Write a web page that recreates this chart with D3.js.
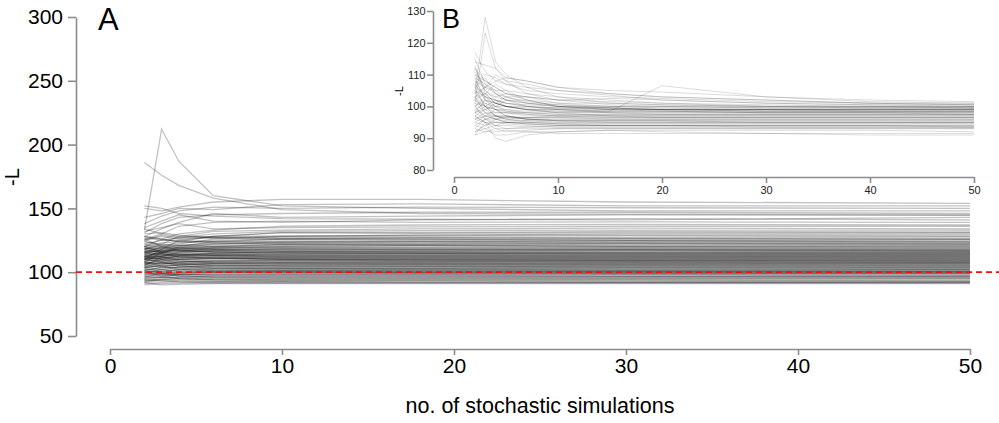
<!DOCTYPE html>
<html><head><meta charset="utf-8">
<script src="https://cdn.jsdelivr.net/npm/d3@7"></script>
<style>
body{margin:0;background:#fff}
svg{display:block}
</style></head>
<body><svg id="chart" width="999" height="423"></svg>
<script>
// ---------- data ----------
const mainX = [2,3,4,6,10,18,30,50];
const mainSeries = [
[133,212,187,160,152,150,148,148],
[186,176,168,158,149,146,145.5,145],
[150,148,151,155,157,157,155,154],
[143,146,150,149,153,153.5,152,152],
[138,144,148,151,150,151,150.5,150],
[152,150,146,144,142,141.5,141,143],
[131,138,143,145,146,147,147,146],
[128,134,139,146,143,144,145,144.5],
[135,140,145,140,139,141,142,141],
[126,130,136,139,140,139,139.5,139],
[120,126,130,133,136,137,137.5,137],
[132,135,138,134,135,135.5,136,136],
[118,122,128,132,133,134,134.5,134],
[125,129,127,130,132,132.5,133,133],
[110,118,125,128,131,131,132,131.5],
[128,126,124,128,131,130.5,131,131],
[115,120,122,126,128,129,130,130],
[122,125,127,128,128.5,129,129,129],
[130,131,129,127,128,128,128.5,128],
[112,116,120,124,126,127,127,127.5],
[125,128,126,127,127,127,126.5,126],
[118,121,123,125,126,125.5,126,126],
[134,130,128,127,126,126,125,125.5],
[108,115,119,122,124,125,125,124.5],
[120,123,124,124,124.5,124,124,124],
[127,125,125,124,123.5,124,124.5,123.5],
[114,118,121,123,123,123.5,123,123],
[122,120,121,122,123,122.5,123,122.5],
[110,115,118,120,122,122,122.5,122],
[128,126,124,123,122,121.5,122,121.5],
[116,119,120,121,121.5,121,121,121],
[119,117,119,120,121,121,120.5,120.5],
[105,112,116,119,120,120.5,120,120],
[124,122,121,120,120,119.5,120,119.5],
[118,119,119,119,119.5,119,119,119],
[112,116,118,119,119,118.5,119,118.5],
[121,119,118,118,118.5,118,118,118],
[115,117,117,118,118,117.5,118,117.5],
[109,113,115,117,118,117.5,117.5,117],
[124,121,119,118,117,117,117,117],
[117,116,117,117,116.5,116.5,117,116.5],
[113,115,116,117,116.5,116,116,116],
[120,118,117,116,116,116,115.5,116],
[106,110,113,115,116,115.5,115.5,115.5],
[116,117,116,116,115.5,115,115,115],
[119,116,115,115,115,115,114.5,115],
[111,113,114,115,114.5,114.5,114.5,114.5],
[126,120,117,116,115,114.5,114,114],
[114,114,114,114,114,114,113.5,114],
[110,112,113,114,113.5,113.5,113.5,113.5],
[117,115,114,114,113.5,113,113,113],
[108,111,112,113,113,113,112.5,113],
[115,114,113,113,112.5,112.5,112.5,112.5],
[112,113,113,113,112.5,112,112,112],
[120,116,114,113,112,112,111.5,112],
[104,108,110,111,111.5,111.5,111.5,111.5],
[113,112,112,112,111.5,111,111,111],
[110,111,111,112,111,111,110.5,111],
[116,114,112,111,110.5,110.5,110.5,110.5],
[107,109,110,111,110.5,110,110,110],
[112,111,111,111,110,110,109.5,110],
[118,115,112,111,110,109.5,109.5,109.5],
[103,106,108,109,109.5,109.5,109,109],
[111,110,110,110,109.5,109,109,109],
[114,112,110,109,109,108.5,108.5,108.5],
[106,107,108,108.5,108.5,108.5,108,108],
[109,109,108,108,108,108,108,108],
[101,104,106,107,107.5,107.5,107.5,107.5],
[112,110,109,108,107.5,107,107,107],
[107,107,107,107,107,107,106.5,107],
[116,112,109,107,106.5,106.5,106.5,106.5],
[104,105,106,106.5,106.5,106,106,106],
[108,107,106.5,106,106,106,105.5,105.5],
[99,102,104,105,105.5,105.5,105.5,105.5],
[110,108,106,105.5,105,105,105,105],
[105,105,105,105,105,104.5,104.5,104.5],
[113,110,107,105,104.5,104.5,104,104],
[102,103,104,104,104,104,104,104],
[107,106,105,104,103.5,103.5,103.5,103.5],
[98,100,102,103,103,103,103,103],
[104,104,103.5,103,103,102.5,102.5,102.5],
[111,108,105,103,102.5,102.5,102,102],
[100,101,102,102,102,102,101.5,102],
[96,99,100,101,101.5,101.5,101.5,101.5],
[106,104,103,102,101.5,101,101,101],
[102,102,101.5,101,101,101,100.5,100.5],
[95,97,99,100,100.5,100.5,100.5,100.5],
[108,105,102,101,100.5,100,100,100],
[101,100.5,100,100,100,100,100,100],
[98,99,99.5,100,100,99.5,99.5,99.5],
[104,102,100.5,100,99.5,99.5,99,99],
[94,96,98,99,99,99,99,99],
[100,99,98.5,98.5,98.5,98.5,98.5,98.5],
[97,98,98,98,98,98,98,97.5],
[103,100,98,97.5,97.5,97.5,97,97],
[93,95,96,97,97,97,97,97],
[99,98,97,96.5,96.5,96.5,96.5,96.5],
[96,96,96,96,96,96,96,96],
[101,99,97,96,95.5,95.5,95.5,95.5],
[92,94,95,95,95,95,95,95],
[97,96,95,94.5,94.5,94.5,94.5,94.5],
[93,94,94,94,94,94,94,93.5],
[100,97,95,94,93.5,93.5,93.5,93],
[91,92,93,93,93,93,92.5,92.5],
[95,94,93,92.5,92.5,92,92,92],
[90,91,91.5,92,92,92,92,92],
[94,93,92,91.5,91.5,91.5,91.5,91.5],
[92,90,90.5,91,91,91,91,91]
];

const insetX = [2,3,4,5,7,10,15,20,30,40,50];
const insetSeries = [
[104,128,114,110,106,103,101,100.5,100,100,100],
[101,123,112,108,104,102,100.5,100,99.5,99.5,99.5],
[117,111,108,107,105,104,103,102.5,101.5,101,101],
[98,102,101,100,99,98,98.5,106.5,103,102,101.5],
[91,95,90,89,91,92,92.5,92,91.5,91,91],
[114,113,112,109,108,106,105,104.5,103,101.5,101],
[108,106,110,108,107,105,103.5,102,101,100.5,100.5],
[112,108,106,104,103,102,101.5,101,100.5,100,100],
[106,109,104,103,103,101,100,100,100,99.5,99.5],
[110,105,103,102,101,100,99.5,99.5,99,99,99],
[103,104,107,105,102,100,99,99,99,99,99],
[100,102,101,103,101,100.5,99.5,99,98.5,98.5,98.5],
[115,107,104,102,100,99,98.5,98.5,98.5,98.5,98.5],
[107,103,101,100,99,98.5,98,98,98,98,98],
[98,100,102,101,100,99,98,97.5,97.5,97.5,97.5],
[105,100,98,98,97.5,97,97,97,97,97,97],
[95,97,99,98,97,97,96.5,96.5,96.5,96.5,96.5],
[102,99,97,96,96.5,96.5,96,96,96,96,96],
[93,96,97,97,96,95.5,95.5,95.5,95.5,95.5,95.5],
[109,102,99,97,96,95.5,95,95,95,95,95],
[97,95,94,95,95,94.5,94.5,94.5,94.5,94.5,94.5],
[100,97,96,95,94.5,94,94,94,94,94,94],
[92,93,94,94,93.5,93.5,93.5,93.5,93.5,93.5,93.5],
[96,95,93,92,92.5,93,93,93,93,93,93],
[94,93,91,91,92,92,92.5,92.5,92.5,92.5,92],
[91,92,92,92.5,92,91.5,91.5,91.5,91.5,91.5,91.5],
[103,106,108,109,108,106,104,103,102,101,100.5],
[107,110,109,107,106,105,104,103,102,101,100.5],
[102,104,103,104,103,102,102.5,102,101,100.5,100],
[111,106,105,105,104,103,102,101,100,100,100],
[99,101,100,102,102,101,101,100.5,100,100,99.5],
[105,103,102,101,100.5,100,100,100,99.5,99.5,99.5],
[97,99,101,100,99.5,99.5,99.5,99,99,99,99],
[113,104,101,100,99,99,99,99,99,98.5,98.5],
[101,100,99,99,98.5,98.5,98.5,98.5,98.5,98.5,98.5],
[104,101,99,98.5,98,98,98,98,98,98,98],
[96,98,98,98,98,97.5,97.5,97.5,97.5,97.5,97.5],
[108,103,100,98.5,97.5,97,97,97,97,97,97],
[99,97,96,96.5,96.5,96.5,96.5,96.5,96.5,96.5,96.5],
[101,98,97,96.5,96,96,96,96,96,96,96],
[94,96,96,95.5,95.5,95.5,95.5,95.5,95.5,95.5,95.5],
[106,100,97,96,95.5,95,95,95,95,95,95],
[97,95,95,95,94.5,94.5,94.5,94.5,94.5,94.5,94.5],
[103,98,96,95,94.5,94,94,94,94,94,94],
[92,94,95,94.5,94,93.5,93.5,93.5,93.5,93.5,93.5],
[100,96,94,93,93,93,93,93,93,93,93],
[98,99,100,100,99,99,98.5,98.5,98,98,97.5],
[110,108,106,104,102,100,99,98.5,98,98,98],
[104,106,104,102,101,100,99.5,99,98.5,98.5,98.5],
[96,97,97,97,96.5,97,97,97,97,97,97],
[107,102,100,99,98,97.5,97.5,97.5,97.5,97.5,97.5],
[102,100,99,97,96,96,96,96,96,96,96],
[95,94,96,97,96,95.5,95.5,95.5,95,95,95],
[112,105,102,101,100,99.5,99.5,99,99,99,99],
[100,103,102,100,99,98,97,96.5,96.5,96.5,96.5],
[106,104,101,100,100,99.5,99,99,99,99,99],
[93,92,93,93,93.5,94,94,94,94,94,93.5],
[103,100,97,96,95,94.5,94,94,93.5,93.5,93.5],
[98,96,95,95,95,95,95,95,95,95,95],
[109,107,105,103,101.5,100.5,100,99.5,99.5,99.5,99.5]
];

const mainYTicks = [50,100,150,200,250,300];
const mainXTicks = [0,10,20,30,40,50];
const insetYTicks = [80,90,100,110,120,130];
const insetXTicks = [0,10,20,30,40,50];
const referenceValue = 100;
const xLabel = "no. of stochastic simulations";
const yLabel = "-L";

// ---------- drawing ----------
const svg = d3.select("#chart");
const FONT = "'Liberation Sans', Arial, Helvetica, sans-serif";
const axisCol = "#8c8c8c";

function styleAxis(g, size, col) {
  g.attr("font-family", FONT).attr("font-size", size);
  g.selectAll(".domain").attr("stroke", axisCol).attr("stroke-width", 1.6);
  g.selectAll(".tick line").attr("stroke", axisCol).attr("stroke-width", 1.6);
  g.selectAll(".tick text").attr("fill", col);
}

// main panel
const x = d3.scaleLinear().domain([0,50]).range([110,970]);
const y = d3.scaleLinear().domain([50,300]).range([336,17]);

const lineMain = d3.line().x((d,i)=>x(mainX[i])).y(d=>y(d));
svg.append("g").selectAll("path").data(mainSeries).join("path")
  .attr("d", lineMain).attr("fill","none")
  .attr("stroke","#000").attr("stroke-opacity",0.24).attr("stroke-width",1.3);

const gy = svg.append("g").attr("transform","translate(76,0)")
  .call(d3.axisLeft(y).tickValues(mainYTicks).tickSize(8).tickSizeOuter(0).tickPadding(5));
styleAxis(gy, 21, "#000");
const gx = svg.append("g").attr("transform","translate(0,349)")
  .call(d3.axisBottom(x).tickValues(mainXTicks).tickSize(6).tickSizeOuter(0).tickPadding(3));
styleAxis(gx, 21, "#000");

svg.append("line").attr("x1",76).attr("x2",999)
  .attr("y1",y(referenceValue)).attr("y2",y(referenceValue))
  .attr("stroke","#ee1111").attr("stroke-width",1.7).attr("stroke-dasharray","6,4");

svg.append("text").attr("x",540).attr("y",413).attr("text-anchor","middle")
  .attr("font-family",FONT).attr("font-size",21.5).text(xLabel);
svg.append("text").attr("transform","translate(19,177) rotate(-90)").attr("text-anchor","middle")
  .attr("font-family",FONT).attr("font-size",20).text(yLabel);
svg.append("text").attr("x",98).attr("y",30).attr("font-family",FONT).attr("font-size",31).text("A");

// inset panel
const xi = d3.scaleLinear().domain([0,50]).range([454,974]);
const yi = d3.scaleLinear().domain([80,130]).range([170,11]);
const lineInset = d3.line().x((d,i)=>xi(insetX[i])).y(d=>yi(d));
svg.append("g").selectAll("path").data(insetSeries).join("path")
  .attr("d", lineInset).attr("fill","none")
  .attr("stroke","#000").attr("stroke-opacity",0.14).attr("stroke-width",1);

const giy = svg.append("g").attr("transform","translate(433,0)")
  .call(d3.axisLeft(yi).tickValues(insetYTicks).tickSize(6).tickSizeOuter(0).tickPadding(1.5));
styleAxis(giy, 11, "#222");
const gix = svg.append("g").attr("transform","translate(0,177)")
  .call(d3.axisBottom(xi).tickValues(insetXTicks).tickSize(6).tickSizeOuter(0).tickPadding(3));
styleAxis(gix, 11, "#222");
svg.append("text").attr("transform","translate(403,91) rotate(-90)").attr("text-anchor","middle")
  .attr("font-family",FONT).attr("font-size",11).text(yLabel);
svg.append("text").attr("x",442).attr("y",28).attr("font-family",FONT).attr("font-size",27).text("B");
</script>
</body></html>
